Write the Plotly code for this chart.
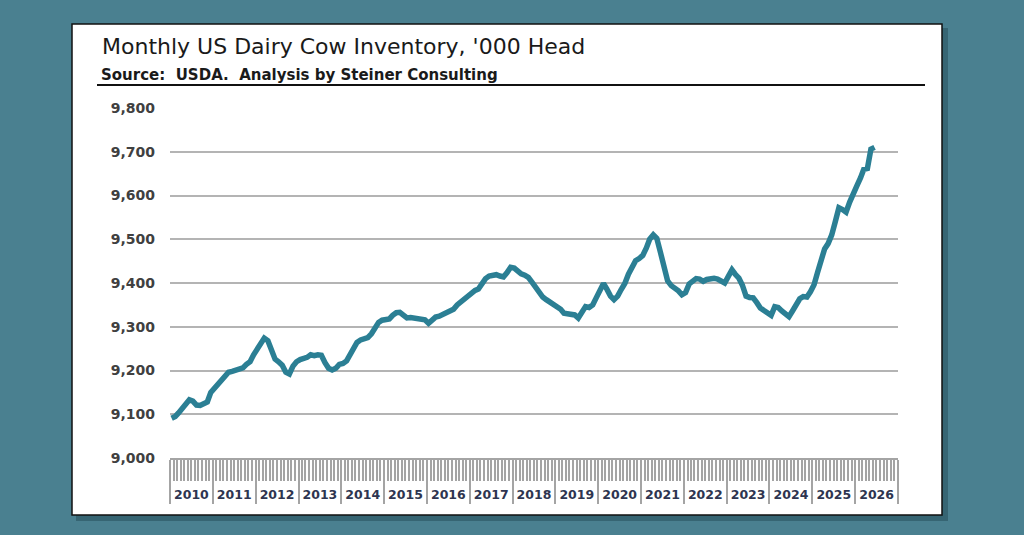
import pandas as pd
import plotly.graph_objects as go

# Monthly US dairy cow inventory, '000 head, Jan 2010 onward
start_month = "2010-01-01"
inventory = [
    9091, 9095, 9103, 9113, 9125, 9133, 9130, 9121, 9120, 9124, 9128, 9150,
    9160, 9172, 9180, 9190, 9196, 9198, 9200, 9203, 9206, 9214, 9220, 9236,
    9250, 9266, 9274, 9268, 9248, 9226, 9220, 9212, 9196, 9192, 9210, 9220,
    9225, 9226, 9230, 9236, 9234, 9236, 9235, 9218, 9205, 9201, 9205, 9214,
    9216, 9222, 9235, 9250, 9264, 9270, 9272, 9275, 9284, 9296, 9310, 9315,
    9316, 9318, 9326, 9332, 9333, 9326, 9320, 9321, 9319, 9318, 9317, 9316,
    9308, 9316, 9322, 9324, 9328, 9332, 9335, 9340, 9350, 9356, 9364, 9372,
    9378, 9383, 9386, 9400, 9410, 9416, 9417, 9419, 9416, 9414, 9424, 9436,
    9434, 9426, 9421, 9418, 9413, 9402, 9390, 9378, 9368, 9362, 9356, 9351,
    9347, 9340, 9331, 9329, 9330, 9327, 9320, 9332, 9346, 9344, 9350, 9366,
    9384, 9399, 9386, 9370, 9362, 9370, 9385, 9399, 9420, 9436, 9451, 9456,
    9463, 9480, 9500, 9510, 9502, 9470, 9432, 9405, 9394, 9389, 9382, 9373,
    9378, 9398, 9405, 9410, 9409, 9404, 9408, 9410, 9411, 9409, 9404, 9400,
    9415, 9430, 9420, 9411, 9395, 9370, 9367, 9366, 9355, 9343, 9337, 9330,
    9326, 9346, 9344, 9336, 9328, 9323, 9336, 9350, 9364, 9369, 9368, 9380,
    9396, 9425, 9448, 9478, 9490, 9510, 9540, 9572, 9568, 9562, 9585, 9606,
    9622, 9640, 9660, 9662, 9706, 9710,
]
y_ticks = [9000, 9100, 9200, 9300, 9400, 9500, 9600, 9700, 9800]

months = pd.date_range(start_month, periods=len(inventory), freq="MS") + pd.Timedelta(days=14)

BG = "#4a8090"
LINE = "#2b7f94"
GRID = "#b4b4b4"
TICK = "#a4a4a4"

# the page puts the figure 8px in from the window corner
O = 8
# plot area in window pixels: x 170..898, y 108..458
L, R, T, B = 170, 898, 108, 458
W, H = 1024 - 2 * O, 535 - 2 * O

def px_x(p):
    return (p - L) / (R - L)

def px_y(p):
    return (B - p) / (B - T)

fig = go.Figure()
fig.add_trace(go.Scatter(
    x=months, y=inventory, mode="lines",
    line=dict(color=LINE, width=5.5),
    hoverinfo="x+y", showlegend=False,
))

fig.update_layout(
    width=W, height=H,
    margin=dict(l=L - O, r=W + O - R, t=T - O, b=H + O - B),
    paper_bgcolor=BG,
    plot_bgcolor="rgba(0,0,0,0)",
    font=dict(family="DejaVu Sans, sans-serif", color="#404040"),
    xaxis=dict(
        type="date",
        range=["2010-01-01", "2027-01-01"],
        tick0="2010-01-01", dtick="M12",
        ticks="outside", ticklen=44, tickwidth=1.5, tickcolor=TICK,
        ticklabelmode="period", tickformat="<b>%Y</b>",
        ticklabelstandoff=-20,
        tickfont=dict(size=12.5, color="#2e3550", family="DejaVu Sans"),
        minor=dict(dtick="M1", ticks="outside", ticklen=21, tickwidth=1.5, tickcolor=TICK),
        showgrid=False, zeroline=False,
        showline=True, linecolor=TICK, linewidth=2,
    ),
    yaxis=dict(
        range=[9000, 9800],
        tickvals=y_ticks, ticktext=["<b>%s</b>" % f"{v:,}" for v in y_ticks],
        tickfont=dict(size=14, color="#404040", family="DejaVu Sans"),
        ticklabelstandoff=14,
        showgrid=True, gridcolor=GRID, gridwidth=2,
        zeroline=False, showline=False,
    ),
    shapes=[
        # card shadow
        dict(type="rect", xref="paper", yref="paper", layer="below",
             x0=px_x(76), x1=px_x(948), y0=px_y(521), y1=px_y(28),
             fillcolor="#2e5a66", line=dict(width=0), opacity=0.7),
        # white card
        dict(type="rect", xref="paper", yref="paper", layer="below",
             x0=px_x(72), x1=px_x(942), y0=px_y(515), y1=px_y(24),
             fillcolor="white", line=dict(color="#111111", width=1.5)),
        # rule under the source line
        dict(type="line", xref="paper", yref="paper",
             x0=px_x(97), x1=px_x(925), y0=px_y(85), y1=px_y(85),
             line=dict(color="#111111", width=2)),
    ],
    annotations=[
        dict(text="Monthly US Dairy Cow Inventory, '000 Head",
             xref="paper", yref="paper", x=px_x(100), y=px_y(47),
             xanchor="left", yanchor="middle", showarrow=False,
             font=dict(size=22, color="#1a1a1a", family="DejaVu Sans")),
        dict(text="<b>Source:  USDA.  Analysis by Steiner Consulting</b>",
             xref="paper", yref="paper", x=px_x(99), y=px_y(75),
             xanchor="left", yanchor="middle", showarrow=False,
             font=dict(size=15, color="#1a1a1a", family="DejaVu Sans")),
    ],
)

# fill the page margin around the figure with the same teal
fig.write_html("out.html", post_script=f"document.body.style.background='{BG}';")
